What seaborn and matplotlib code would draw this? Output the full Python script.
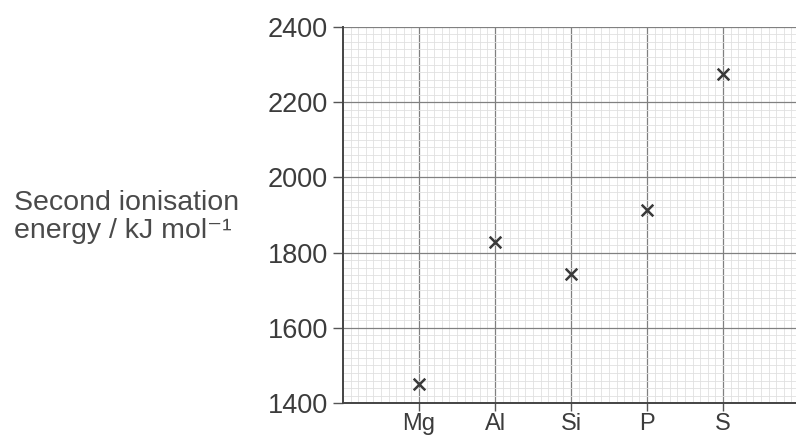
import numpy as np
import pandas as pd
import matplotlib
matplotlib.use("Agg")
import matplotlib.pyplot as plt
import seaborn as sns
from matplotlib.ticker import MultipleLocator

elements = ["Mg", "Al", "Si", "P", "S"]
positions = [1, 2, 3, 4, 5]
second_ie = [1452, 1828, 1742, 1912, 2275]
y_ticks = [1400, 1600, 1800, 2000, 2200, 2400]

data = pd.DataFrame({"pos": positions, "element": elements, "energy": second_ie})

sns.set_theme(style="white")
plt.rcParams["font.family"] = ["Liberation Sans", "DejaVu Sans"]

fig = plt.figure(figsize=(7.96, 4.41), dpi=100)
ax = fig.add_axes([0.431, 0.086, 0.569, 0.853])

# graph paper
ax.xaxis.set_minor_locator(MultipleLocator(0.1))
ax.yaxis.set_minor_locator(MultipleLocator(20))
ax.grid(which="minor", color="#e0e0e0", linewidth=0.6)
ax.grid(which="major", color="#808080", linewidth=0.9)
ax.set_axisbelow(True)

sns.scatterplot(data=data, x="pos", y="energy", marker="x", s=70,
                color="#3a3a3a", linewidth=1.8, ax=ax, zorder=5)

ax.set_xlim(0, 5.96)
ax.set_ylim(1400, 2400)
ax.set_xticks(positions)
ax.set_xticklabels(elements)
ax.set_yticks(y_ticks)

for side in ["top", "right"]:
    ax.spines[side].set_visible(False)
for side in ["left", "bottom"]:
    ax.spines[side].set_color("#444444")
    ax.spines[side].set_linewidth(1.4)

ax.tick_params(which="major", length=7, width=1, color="#555555", pad=4,
               labelsize=19.5, labelcolor="#3c3c3c", bottom=True, left=True)
ax.tick_params(axis="x", which="major", length=6, pad=1.5, labelsize=17)
ax.tick_params(which="minor", length=0)
ax.set_xlabel("")
ax.set_ylabel("")

fig.text(0.017, 0.508, "Second ionisation\nenergy / kJ mol⁻¹", fontsize=20.5,
         color="#4a4a4a", ha="left", va="center", linespacing=1.1)

fig.savefig("out.png", dpi=100)
